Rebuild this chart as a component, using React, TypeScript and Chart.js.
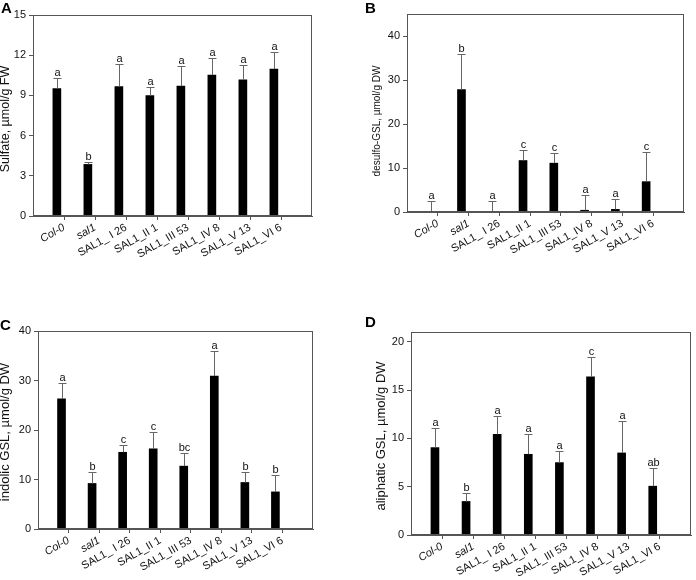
import React, { useEffect, useRef } from "react";
import { Chart, registerables } from "chart.js";

Chart.register(...registerables);

const FONT = "'Liberation Sans', Arial, sans-serif";

const CATEGORIES = ["Col-0", "sal1", "SAL1_ I 26", "SAL1_II 1", "SAL1_III 53", "SAL1_IV 8", "SAL1_V 13", "SAL1_VI 6"];
const ITALIC_CATEGORIES = ["Col-0", "sal1"];

const SULFATE = [9.5, 3.85, 9.65, 8.98, 9.7, 10.52, 10.17, 10.97];
const SULFATE_ERR = [0.82, 0.15, 1.67, 0.62, 1.5, 1.25, 1.08, 1.25];
const SULFATE_LETTERS = ["a", "b", "a", "a", "a", "a", "a", "a"];
const SULFATE_TICKS = [0, 3, 6, 9, 12, 15];

const DESULFO = [0, 27.85, 0, 11.7, 11.1, 0.4, 0.6, 6.9];
const DESULFO_ERR = [2.5, 7.95, 2.5, 2.4, 2.4, 3.4, 2.3, 6.8];
const DESULFO_LETTERS = ["a", "b", "a", "c", "c", "a", "a", "c"];
const DESULFO_TICKS = [0, 10, 20, 30, 40];

const INDOLIC = [26.3, 9.2, 15.5, 16.2, 12.7, 30.9, 9.4, 7.5];
const INDOLIC_ERR = [3.1, 2.4, 1.4, 3.3, 2.6, 5.1, 2.2, 3.5];
const INDOLIC_LETTERS = ["a", "b", "c", "c", "bc", "a", "b", "b"];
const INDOLIC_TICKS = [0, 10, 20, 30, 40];

const ALIPHATIC = [9.04, 3.47, 10.41, 8.35, 7.49, 16.36, 8.49, 5.05];
const ALIPHATIC_ERR = [2.06, 0.86, 1.89, 2.1, 1.2, 2.06, 3.33, 1.89];
const ALIPHATIC_LETTERS = ["a", "b", "a", "a", "a", "c", "a", "ab"];
const ALIPHATIC_TICKS = [0, 5, 10, 15, 20];

// layout only
const BAR_SHIFT = 0.23;
const PANELS = [
  { tag: "A", x: 0, y: 0, values: SULFATE, errors: SULFATE_ERR, letters: SULFATE_LETTERS, yTicks: SULFATE_TICKS, yMax: 15,
    title: "Sulfate, µmol/g FW", padLeft: 33, padRight: 36, padTop: 15, xh: 74, titleX: 6, titleY: 119, titleSize: 12.5, tagX: 1, tagY: 13 },
  { tag: "B", x: 348, y: 0, values: DESULFO, errors: DESULFO_ERR, letters: DESULFO_LETTERS, yTicks: DESULFO_TICKS, yMax: 45,
    title: "desulfo-GSL, µmol/g DW", padLeft: 59, padRight: 12, padTop: 14, xh: 78, titleX: 29, titleY: 121, titleSize: 10, tagX: 17, tagY: 13 },
  { tag: "C", x: 0, y: 290, values: INDOLIC, errors: INDOLIC_ERR, letters: INDOLIC_LETTERS, yTicks: INDOLIC_TICKS, yMax: 40,
    title: "indolic GSL, µmol/g DW", padLeft: 38, padRight: 35, padTop: 41, xh: 51, titleX: 5, titleY: 142, titleSize: 13, tagX: 0, tagY: 40 },
  { tag: "D", x: 348, y: 290, values: ALIPHATIC, errors: ALIPHATIC_ERR, letters: ALIPHATIC_LETTERS, yTicks: ALIPHATIC_TICKS, yMax: 21,
    title: "aliphatic GSL, µmol/g DW", padLeft: 63, padRight: 5, padTop: 42, xh: 45, titleX: 33, titleY: 146, titleSize: 13, tagX: 17, tagY: 37 },
];

const W = 348;
const H = 290;
const AXIS_COLOR = "#555";
const ERR_COLOR = "#666";

function Panel({ cfg }: { cfg: any }) {
  const ref = useRef<HTMLCanvasElement | null>(null);
  useEffect(() => {
    if (!ref.current) return;
    const overlay = {
      id: "overlay" + cfg.tag,
      afterDatasetsDraw(chart: any) {
        const { ctx } = chart;
        const xs = chart.scales.x;
        const ys = chart.scales.y;
        ctx.save();
        ctx.strokeStyle = ERR_COLOR;
        ctx.lineWidth = 1;
        cfg.values.forEach((v: number, i: number) => {
          const px = Math.round(xs.getPixelForValue(i + 1 - BAR_SHIFT)) + 0.5;
          const y0 = ys.getPixelForValue(v);
          const y1 = Math.round(ys.getPixelForValue(v + cfg.errors[i])) + 0.5;
          ctx.beginPath();
          ctx.moveTo(px, y0);
          ctx.lineTo(px, y1);
          ctx.moveTo(px - 4, y1);
          ctx.lineTo(px + 4, y1);
          ctx.stroke();
          ctx.fillStyle = "#111";
          ctx.font = `11px ${FONT}`;
          ctx.textAlign = "center";
          ctx.textBaseline = "alphabetic";
          ctx.fillText(cfg.letters[i], px, y1 - 3);
        });
        ctx.restore();
      },
      afterDraw(chart: any) {
        const { ctx, chartArea } = chart;
        ctx.save();
        ctx.strokeStyle = AXIS_COLOR;
        ctx.lineWidth = 1;
        const l = Math.round(chartArea.left) + 0.5;
        const t = Math.round(chartArea.top) + 0.5;
        const r = Math.round(chartArea.right) - 0.5;
        const b = Math.round(chartArea.bottom) - 0.5;
        ctx.strokeRect(l, t, r - l, b - t);
        ctx.fillStyle = "#000";
        ctx.font = `bold 15px ${FONT}`;
        ctx.textAlign = "left";
        ctx.textBaseline = "alphabetic";
        ctx.fillText(cfg.tag, cfg.tagX, cfg.tagY);
        ctx.translate(cfg.titleX, cfg.titleY);
        ctx.rotate(-Math.PI / 2);
        ctx.font = `${cfg.titleSize}px ${FONT}`;
        ctx.textAlign = "center";
        ctx.textBaseline = "middle";
        ctx.fillStyle = "#111";
        ctx.fillText(cfg.title, 0, 0);
        ctx.restore();
      },
    };
    const chart = new Chart(ref.current, {
      type: "bar",
      data: {
        datasets: [
          {
            data: cfg.values.map((v: number, i: number) => ({ x: i + 1 - BAR_SHIFT, y: v })),
            backgroundColor: "#000",
            borderWidth: 0,
            barThickness: 8,
          },
        ],
      },
      options: {
        responsive: false,
        animation: false,
        devicePixelRatio: 1,
        layout: { padding: { top: cfg.padTop, right: cfg.padRight, left: 0, bottom: 0 } },
        plugins: { legend: { display: false }, tooltip: { enabled: false } },
        scales: {
          x: {
            type: "linear",
            offset: false,
            min: 0,
            max: CATEGORIES.length + 1,
            afterBuildTicks: (s: any) => {
              s.ticks = CATEGORIES.map((_, i) => ({ value: i + 1 }));
            },
            afterFit: (s: any) => {
              s.height = cfg.xh;
            },
            grid: { offset: false, drawOnChartArea: false, drawTicks: true, tickLength: 4, color: AXIS_COLOR },
            border: { display: true, color: AXIS_COLOR },
            ticks: {
              autoSkip: false,
              minRotation: 30,
              maxRotation: 30,
              padding: 1,
              color: "#111",
              font: (c: any) => ({
                family: FONT,
                size: 11,
                style: ITALIC_CATEGORIES.includes(CATEGORIES[c.index]) ? "italic" : "normal",
              }),
              callback: (v: any) => CATEGORIES[Math.round(v) - 1] ?? "",
            },
          },
          y: {
            min: 0,
            max: cfg.yMax,
            afterBuildTicks: (s: any) => {
              s.ticks = cfg.yTicks.map((v: number) => ({ value: v }));
            },
            afterFit: (s: any) => {
              s.width = cfg.padLeft;
            },
            grid: { drawOnChartArea: false, drawTicks: true, tickLength: 4, color: AXIS_COLOR },
            border: { display: true, color: AXIS_COLOR },
            ticks: { color: "#111", padding: 3, font: { family: FONT, size: 11 } },
          },
        },
      },
      plugins: [overlay],
    } as any);
    return () => chart.destroy();
  }, [cfg]);
  return (
    <div style={{ position: "absolute", left: cfg.x, top: cfg.y, width: W, height: H }}>
      <canvas ref={ref} width={W} height={H} style={{ width: W, height: H, display: "block" }} />
    </div>
  );
}

export default function App() {
  return (
    <div style={{ position: "fixed", left: 0, top: 0, width: 696, height: 580, background: "#fff", overflow: "hidden" }}>
      {PANELS.map((p) => (
        <Panel key={p.tag} cfg={p} />
      ))}
    </div>
  );
}
